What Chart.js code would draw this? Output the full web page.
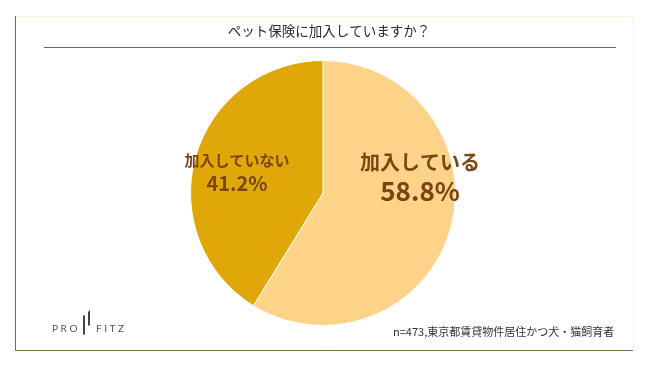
<!DOCTYPE html>
<html>
<head>
<meta charset="utf-8">
<script src="https://cdn.jsdelivr.net/npm/chart.js@4"></script>
<style>
  html, body { margin: 0; padding: 0; background: #fff; }
  #wrap { width: 650px; height: 366px; position: relative; }
</style>
</head>
<body>
<div id="wrap"><canvas id="petChart" width="650" height="366"></canvas></div>
<script>
// --- data ---
const labels = ["加入している", "加入していない"];
const values = [58.8, 41.2];
const sliceColors = ["#FDD38A", "#E0A709"];
const titleText = "ペット保険に加入していますか？";
const noteText = "n=473,東京都賃貸物件居住かつ犬・猫飼育者";

const JP = '"Noto Sans CJK JP", "Noto Sans", sans-serif';

// frame, title, footnote, logo
const decor = {
  id: "decor",
  beforeDraw(chart) {
    const c = chart.ctx;
    c.save();
    // card edges
    c.strokeStyle = "#fbf4d6";
    c.lineWidth = 1;
    c.beginPath();
    c.moveTo(16, 16.5); c.lineTo(633.5, 16.5); c.lineTo(633.5, 350);
    c.stroke();
    c.strokeStyle = "#7a6a48";
    c.beginPath();
    c.moveTo(15.5, 16); c.lineTo(15.5, 350.5); c.lineTo(633, 350.5);
    c.stroke();
    // title
    c.fillStyle = "#2b2b2b";
    c.font = "13.5px " + JP;
    c.textAlign = "center";
    c.textBaseline = "middle";
    c.fillText(titleText, 329, 31);
    c.strokeStyle = "#6e6850";
    c.beginPath();
    c.moveTo(44, 47.5); c.lineTo(616, 47.5);
    c.stroke();
    // footnote
    c.font = "11px " + JP;
    c.fillStyle = "#333";
    c.textAlign = "left";
    c.fillText(noteText, 393, 332);
    // logo
    c.fillStyle = "#555";
    c.font = "10px Lato, sans-serif";
    c.fillText("P R O", 52, 329);
    c.fillText("F I T Z", 96, 329);
    c.fillStyle = "#444";
    c.beginPath();
    c.moveTo(83, 316); c.lineTo(85, 315); c.lineTo(85, 334); c.lineTo(83, 335);
    c.closePath(); c.fill();
    c.beginPath();
    c.moveTo(88, 312); c.lineTo(90, 310); c.lineTo(90, 325); c.lineTo(88, 326);
    c.closePath(); c.fill();
    c.restore();
  },
  afterDatasetsDraw(chart) {
    const c = chart.ctx;
    c.save();
    c.fillStyle = "#7a4512";
    c.textAlign = "center";
    c.textBaseline = "middle";
    c.font = "bold 20px " + JP;
    c.fillText(labels[0], 420, 162);
    c.font = "bold 26px " + JP;
    c.fillText(values[0].toFixed(1) + "%", 420, 191);
    c.font = "bold 15px " + JP;
    c.fillText(labels[1], 237, 160);
    c.font = "bold 20px " + JP;
    c.fillText(values[1].toFixed(1) + "%", 237, 183);
    c.restore();
  }
};

new Chart(document.getElementById("petChart"), {
  type: "pie",
  data: {
    labels: labels,
    datasets: [{
      data: values,
      backgroundColor: sliceColors,
      borderColor: "#fff",
      borderWidth: 1
    }]
  },
  options: {
    responsive: false,
    animation: false,
    layout: { padding: { top: 60, bottom: 40, left: 0, right: 4 } },
    plugins: {
      legend: { display: false },
      tooltip: { enabled: false }
    }
  },
  plugins: [decor]
});
</script>
</body>
</html>
